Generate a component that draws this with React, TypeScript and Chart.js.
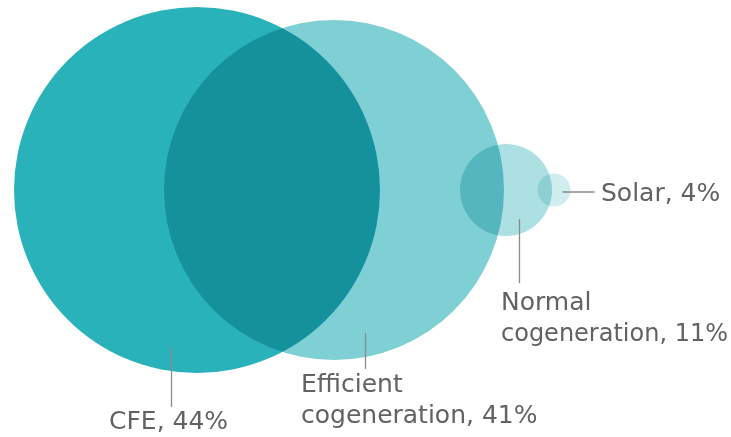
import React, { useEffect, useRef } from "react";
import { Chart, registerables, BubbleController } from "chart.js";

Chart.register(...registerables);

// Bubble controller that does not shrink the chart area to fit its bubbles
class FlatBubble extends (BubbleController as any) {
  getMaxOverflow() {
    return 0;
  }
}
(FlatBubble as any).id = "flatBubble";
(FlatBubble as any).defaults = (BubbleController as any).defaults;
(FlatBubble as any).overrides = (BubbleController as any).overrides;
Chart.register(FlatBubble as any);

// Data
const categories = ["CFE", "Efficient cogeneration", "Normal cogeneration", "Solar"];
const shares = [44, 41, 11, 4];
const labelLines = [["CFE, 44%"], ["Efficient", "cogeneration, 41%"], ["Normal", "cogeneration, 11%"], ["Solar, 4%"]];
// bubble centres and radii, in the horizontal axis' units
const centreX = [197, 334, 506, 554];
const radiusX = [183, 170, 46, 16.5];
const colors = ["#2AB2BB", "#7FD0D5", "#ACE0E3", "#D0EDEF"];

// label placement relative to bubble centre (style only)
type LabelStyle = {
  line: [number, number, number, number];
  text: [number, number];
};
const labelStyles: LabelStyle[] = [
  { line: [-26, 157, -26, 217], text: [-88, 239] },
  { line: [31, 143, 31, 179], text: [-33, 202] },
  { line: [13, 29, 13, 93], text: [-5, 120] },
  { line: [8, 2, 40, 2], text: [47, 11] },
];

const multiplyPlugin = {
  id: "multiplyBlend",
  beforeDatasetsDraw(chart: any) {
    chart.ctx.save();
    chart.ctx.globalCompositeOperation = "multiply";
  },
  afterDatasetsDraw(chart: any) {
    chart.ctx.restore();
  },
};

const labelPlugin = {
  id: "bubbleLabels",
  afterDraw(chart: any) {
    const ctx = chart.ctx;
    const meta = chart.getDatasetMeta(0);
    ctx.save();
    meta.data.forEach((el: any, i: number) => {
      const s = labelStyles[i];
      const cx = el.x;
      const cy = el.y;
      ctx.strokeStyle = "#8a8a8a";
      ctx.lineWidth = 1.3;
      ctx.beginPath();
      ctx.moveTo(Math.round(cx + s.line[0]) + 0.5, cy + s.line[1]);
      ctx.lineTo(Math.round(cx + s.line[2]) + 0.5, cy + s.line[3]);
      ctx.stroke();
      ctx.fillStyle = "#626262";
      ctx.font = "400 25px 'DejaVu Sans', sans-serif";
      ctx.textAlign = "left";
      ctx.textBaseline = "alphabetic";
      labelLines[i].forEach((t, j) => {
        const x = cx + s.text[0];
        ctx.fillText(t, x, cy + s.text[1] + j * 31, chart.width - x - 3);
      });
    });
    ctx.restore();
  },
};

export default function App() {
  const ref = useRef<HTMLCanvasElement>(null);
  useEffect(() => {
    document.body.style.margin = "0";
    const chart = new Chart(ref.current!, {
      type: "flatBubble" as any,
      data: {
        labels: categories,
        datasets: [
          {
            label: "Share",
            data: categories.map((c, i) => ({ x: centreX[i], y: 0, r: radiusX[i], v: shares[i] })),
            backgroundColor: colors,
            borderWidth: 0,
            hoverBorderWidth: 0,
            clip: false,
            radius: (ctx: any) => {
              const xs = ctx.chart.scales.x;
              const raw = ctx.raw;
              if (!xs || !raw) return 0;
              return Math.abs(xs.getPixelForValue(raw.x + raw.r) - xs.getPixelForValue(raw.x));
            },
          } as any,
        ],
      },
      options: {
        animation: false,
        responsive: false,
        events: [],
        layout: { padding: { left: 0, right: 0, top: 0, bottom: 57 } },
        plugins: { legend: { display: false }, tooltip: { enabled: false } },
        scales: {
          x: { type: "linear", min: 0, max: 731, display: false },
          y: { type: "linear", min: -1, max: 1, display: false },
        },
      } as any,
      plugins: [multiplyPlugin, labelPlugin],
    });
    return () => chart.destroy();
  }, []);
  return (
    <div style={{ width: 731, height: 437, background: "#fff" }}>
      <canvas ref={ref} width={731} height={437} style={{ display: "block" }} />
    </div>
  );
}
